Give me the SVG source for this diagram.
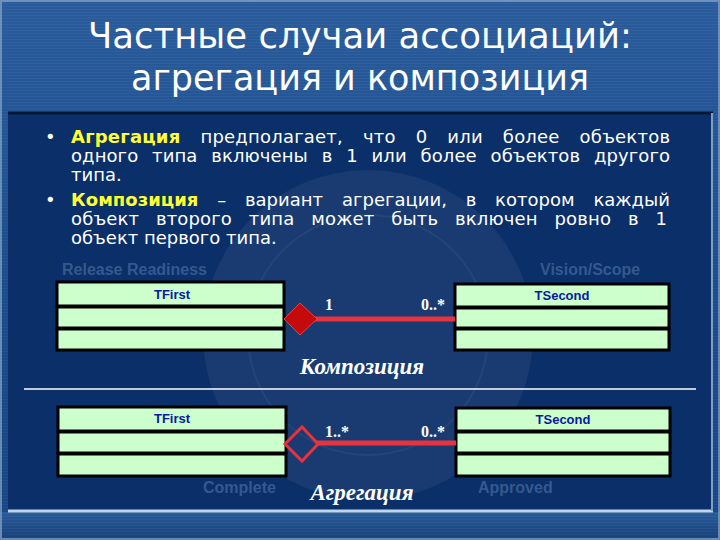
<svg xmlns="http://www.w3.org/2000/svg" width="720" height="540" viewBox="0 0 720 540">
<defs>
<linearGradient id="hdr" x1="0" y1="0" x2="0" y2="1">
<stop offset="0" stop-color="#2a5c9c"/>
<stop offset="0.5" stop-color="#1b4c8c"/>
<stop offset="1" stop-color="#184582"/>
</linearGradient>
<linearGradient id="bot" x1="0" y1="0" x2="0" y2="1">
<stop offset="0" stop-color="#2a5c9a"/>
<stop offset="1" stop-color="#163f78"/>
</linearGradient>
<pattern id="tex" width="6" height="3" patternUnits="userSpaceOnUse">
<rect width="6" height="1" fill="#ffffff" opacity="0.04"/>
</pattern>
<style>
.title{font-family:"DejaVu Sans","Verdana",sans-serif;font-size:36px;fill:#ffffff;text-anchor:middle}
.body{font-family:"DejaVu Sans","Verdana",sans-serif;font-size:18px;fill:#ffffff}
.hl{font-weight:bold;fill:#ffff33}
.box{fill:#ccffcc;stroke:#000000;stroke-width:3}
.cls{font-family:"Liberation Sans",Arial,sans-serif;font-size:13px;font-weight:bold;fill:#0a1aa0;text-anchor:middle}
.mult{font-family:"Liberation Serif","Times New Roman",serif;font-size:16px;font-weight:bold;fill:#ffffff}
.cap{font-family:"Liberation Serif","Times New Roman",serif;font-size:23px;font-weight:bold;font-style:italic;fill:#ffffff;text-anchor:middle}
.wm{font-family:"Liberation Sans",Arial,sans-serif;font-size:16px;font-weight:bold;fill:#34598f}
.assoc{stroke:#e8323e;stroke-width:5;fill:none}
</style>
</defs>
<rect x="0" y="0" width="720" height="540" fill="url(#hdr)"/>
<rect x="0" y="0" width="720" height="540" fill="url(#tex)"/>
<rect x="0" y="512" width="720" height="28" fill="url(#bot)"/>
<rect x="0" y="512" width="720" height="28" fill="url(#tex)"/>
<rect x="1" y="1" width="718" height="538" fill="none" stroke="#8aa6c8" stroke-width="2" opacity="0.7"/>
<!-- content panel -->
<rect x="8" y="112" width="705" height="400" fill="#0b2f69"/>
<line x1="8" y1="113" x2="713" y2="113" stroke="#051838" stroke-width="3"/>
<line x1="8" y1="511" x2="713" y2="511" stroke="#c0d4ea" stroke-width="3"/>
<line x1="712" y1="113" x2="712" y2="511" stroke="#7f9fc6" stroke-width="2"/>
<!-- watermark -->
<g id="watermark">
<circle cx="368" cy="335" r="165" fill="#ffffff" opacity="0.06"/>
<circle cx="368" cy="335" r="120" fill="none" stroke="#ffffff" stroke-width="2" opacity="0.05"/>
<text x="62" y="275" class="wm">Release Readiness</text>
<text x="540" y="275" class="wm">Vision/Scope</text>
<text x="203" y="493" class="wm">Complete</text>
<text x="478" y="493" class="wm">Approved</text>
</g>
<!-- title -->
<g id="title">
<text x="360" y="48" class="title" textLength="544" lengthAdjust="spacingAndGlyphs">Частные случаи ассоциаций:</text>
<text x="360" y="90" class="title" textLength="458" lengthAdjust="spacingAndGlyphs">агрегация и композиция</text>
</g>
<!-- bullets -->
<g id="bullets" class="body">
<text x="45" y="143">•</text>
<text x="71" y="143" word-spacing="14" textLength="599" lengthAdjust="spacing"><tspan class="hl">Агрегация</tspan> предполагает, что 0 или более объектов</text>
<text x="71" y="162" word-spacing="8" textLength="599" lengthAdjust="spacing">одного типа включены в 1 или более объектов другого</text>
<text x="71" y="181">типа.</text>
<text x="45" y="206">•</text>
<text x="71" y="206" word-spacing="13" textLength="599" lengthAdjust="spacing"><tspan class="hl">Композиция</tspan> – вариант агрегации, в котором каждый</text>
<text x="71" y="225" word-spacing="11" textLength="596" lengthAdjust="spacing">объект второго типа может быть включен ровно в 1</text>
<text x="71" y="244">объект первого типа.</text>
</g>
<!-- composition diagram -->
<g id="tfirst1">
<rect x="57" y="282" width="227" height="24" class="box"/>
<rect x="57" y="307" width="227" height="21" class="box"/>
<rect x="57" y="329" width="227" height="21" class="box"/>
<text x="172" y="299" class="cls">TFirst</text>
</g>
<g id="tsecond1">
<rect x="455" y="284" width="214" height="23" class="box"/>
<rect x="455" y="308" width="214" height="20" class="box"/>
<rect x="455" y="329" width="214" height="21" class="box"/>
<text x="562" y="300" class="cls">TSecond</text>
</g>
<g id="tfirst2">
<rect x="58" y="407" width="228" height="24" class="box"/>
<rect x="58" y="432" width="228" height="21" class="box"/>
<rect x="58" y="454" width="228" height="22" class="box"/>
<text x="172" y="423" class="cls">TFirst</text>
</g>
<g id="tsecond2">
<rect x="456" y="408" width="214" height="23" class="box"/>
<rect x="456" y="432" width="214" height="21" class="box"/>
<rect x="456" y="454" width="214" height="22" class="box"/>
<text x="563" y="424" class="cls">TSecond</text>
</g>
<g id="connectors">
<line x1="314" y1="319" x2="455" y2="319" class="assoc"/>
<polygon points="284,319 300,303 317,319 300,335" fill="#c40a0a" stroke="#e84040" stroke-width="1"/>
<line x1="316" y1="443" x2="456" y2="443" class="assoc"/>
<polygon points="285,444 302,427 318,444 302,461" fill="none" stroke="#e8323e" stroke-width="3"/>
</g>
<g id="labels">
<text x="325" y="310" class="mult">1</text>
<text x="421" y="310" class="mult">0..*</text>
<text x="362" y="374" class="cap">Композиция</text>
<text x="325" y="437" class="mult">1..*</text>
<text x="421" y="437" class="mult">0..*</text>
<text x="362" y="500" class="cap">Агрегация</text>
</g>
<line x1="24" y1="389" x2="696" y2="389" stroke="#ffffff" stroke-width="1.5"/>
</svg>
